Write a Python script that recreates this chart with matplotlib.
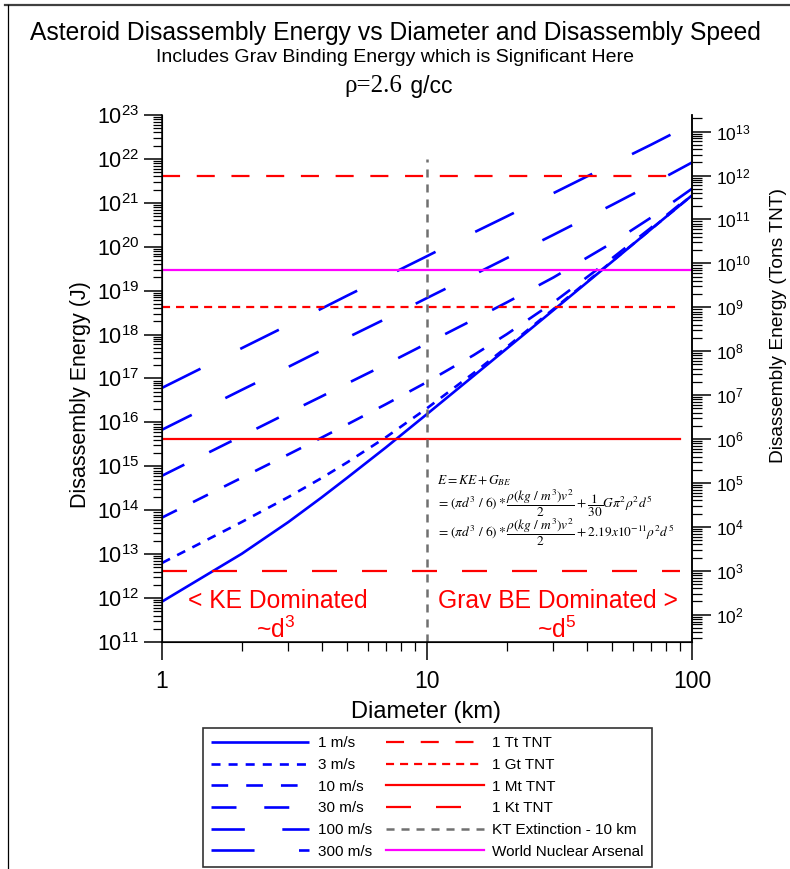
import matplotlib
matplotlib.use("Agg")
import matplotlib.pyplot as plt
from matplotlib.lines import Line2D
from matplotlib.ticker import LogLocator, NullFormatter, FixedLocator

plt.rcParams["font.family"] = ["Liberation Sans", "DejaVu Sans"]
plt.rcParams["mathtext.fontset"] = "custom"
plt.rcParams["mathtext.rm"] = "Liberation Sans"
plt.rcParams["mathtext.it"] = "Liberation Sans:italic"
plt.rcParams["mathtext.bf"] = "Liberation Sans:bold"
plt.rcParams["lines.scale_dashes"] = False

# --- data ---
diameter_km = [1, 2, 3, 4, 5, 7, 10, 15, 20, 30, 50, 70, 100]

speed_labels = ["1 m/s", "3 m/s", "10 m/s", "30 m/s", "100 m/s", "300 m/s"]
energy_1ms = [8.3e11, 1.02e13, 5.4e13, 1.95e14, 5.5e14, 2.7e15, 1.55e16,
              1.15e17, 4.8e17, 3.6e18, 4.6e19, 2.5e20, 1.48e21]
energy_3ms = [6.3e12, 5.4e13, 2.0e14, 5.4e14, 1.23e15, 4.6e15, 2.1e16,
              1.33e17, 5.2e17, 3.8e18, 4.7e19, 2.5e20, 1.49e21]
energy_10ms = [6.8e13, 5.5e14, 1.87e15, 4.5e15, 9.0e15, 2.6e16, 8.3e16,
               3.4e17, 1.02e18, 5.4e18, 5.5e19, 2.7e20, 1.55e21]
energy_30ms = [6.1e14, 4.9e15, 1.66e16, 3.9e16, 7.7e16, 2.1e17, 6.3e17,
               2.2e18, 5.4e18, 2.0e19, 1.23e20, 4.6e20, 2.1e21]
energy_100ms = [6.8e15, 5.5e16, 1.84e17, 4.4e17, 8.5e17, 2.3e18, 6.8e18,
                2.3e19, 5.5e19, 1.87e20, 9.0e20, 2.6e21, 8.3e21]
energy_300ms = [6.1e16, 4.9e17, 1.65e18, 3.9e18, 7.7e18, 2.1e19, 6.1e19,
                2.1e20, 4.9e20, 1.66e21, 7.7e21, 2.1e22, 6.3e22]
speed_energies = [energy_1ms, energy_3ms, energy_10ms,
                  energy_30ms, energy_100ms, energy_300ms]

tnt_labels = ["1 Tt TNT", "1 Gt TNT", "1 Mt TNT", "1 Kt TNT"]
tnt_joules = [4.184e21, 4.184e18, 4.184e15, 4.184e12]
tnt_span_km = [1, 90]

arsenal_label = "World Nuclear Arsenal"
arsenal_joules = 2.9e19
arsenal_span_km = [1, 100]

kt_label = "KT Extinction - 10 km"
kt_diameter_km = 10
kt_span_joules = [1e11, 1e22]

J_PER_TON = 4.184e9

# --- styles ---
speed_dashes = [None, (6.5, 5.8), (12, 13), (18, 20), (24, 27), (31, 32)]
tnt_dashes = [(13, 12), (5.8, 4.3), None, (18, 18)]

fig = plt.figure(figsize=(7.9, 8.69), dpi=100)
ax = fig.add_axes([0.205, 0.2612, 0.671, 0.6065])

for lab, en, dsh in zip(speed_labels, speed_energies, speed_dashes):
    kw = {} if dsh is None else {"dashes": dsh}
    ax.plot(diameter_km, en, color="#0000ff", lw=1.9, label=lab,
            solid_capstyle="butt", dash_capstyle="butt", **kw)

for lab, en, dsh in zip(tnt_labels, tnt_joules, tnt_dashes):
    kw = {} if dsh is None else {"dashes": dsh}
    ax.plot(tnt_span_km, [en, en], color="#ff0000", lw=1.6, label=lab,
            dash_capstyle="butt", **kw)

ax.plot([kt_diameter_km, kt_diameter_km], kt_span_joules, color="#707070",
        lw=1.8, dashes=(5.8, 5), label=kt_label, dash_capstyle="butt")
ax.plot(arsenal_span_km, [arsenal_joules, arsenal_joules], color="#ff00ff",
        lw=1.6, label=arsenal_label)

ax.set_xscale("log")
ax.set_yscale("log")
ax.set_xlim(1, 100)
ax.set_ylim(1e11, 1e23)

ax.set_xticks([1, 10, 100])
ax.set_xticklabels(["1", "10", "100"])
ax.xaxis.set_minor_locator(FixedLocator([2, 3, 4, 5, 6, 7, 8, 9,
                                         20, 30, 40, 50, 60, 70, 80, 90]))
ax.xaxis.set_minor_formatter(NullFormatter())
ax.yaxis.set_major_locator(LogLocator(base=10, numticks=20))
ax.yaxis.set_minor_locator(LogLocator(base=10, subs=range(2, 10), numticks=20))
ax.yaxis.set_minor_formatter(NullFormatter())

ax.tick_params(axis="both", which="major", direction="out", length=13,
               width=1.1, labelsize=15.5)
ax.tick_params(axis="both", which="minor", direction="out", length=6.5,
               width=0.9)
ax.tick_params(axis="x", labelsize=16.5, pad=7)
ax.spines["top"].set_visible(False)
for s in ("left", "right", "bottom"):
    ax.spines[s].set_linewidth(1.1)

ax2 = ax.twinx()
ax2.set_yscale("log")
ax2.set_ylim(1e11 / J_PER_TON, 1e23 / J_PER_TON)
ax2.yaxis.set_major_locator(LogLocator(base=10, numticks=20))
ax2.yaxis.set_minor_locator(LogLocator(base=10, subs=range(2, 10), numticks=20))
ax2.yaxis.set_minor_formatter(NullFormatter())
ax2.tick_params(axis="y", which="major", direction="out", length=14,
                width=1.1, labelsize=12.5)
ax2.tick_params(axis="y", which="minor", direction="out", length=7,
                width=0.9)
ax2.spines["top"].set_visible(False)
ax2.spines["right"].set_linewidth(1.1)

ax.set_ylabel("Disassembly Energy (J)", fontsize=15.5)
ax.yaxis.set_label_coords(-0.134, 0.47)
ax.set_xlabel("Diameter (km)", fontsize=17)
ax.xaxis.set_label_coords(0.498, -0.112)
ax2.set_ylabel("Disassembly Energy (Tons TNT)", fontsize=13.8)
ax2.yaxis.set_label_coords(1.147, 0.60)

# region annotations
red_kw = dict(color="#ff0000", fontsize=17.7, ha="center", va="center",
              transform=ax.transAxes)
ax.text(0.219, 0.078, "< KE Dominated", **red_kw)
ax.text(0.215, 0.023, r"~d$^{3}$", **red_kw)
ax.text(0.747, 0.078, "Grav BE Dominated >", **red_kw)
ax.text(0.745, 0.023, r"~d$^{5}$", **red_kw)

# formula
fx = 0.519
f_kw = dict(fontsize=9.6, math_fontfamily="stix", ha="left", va="center",
            transform=ax.transAxes)
ax.text(fx, 0.307, r"$E = KE + G_{BE}$", **f_kw)
ax.text(fx, 0.263,
        r"$= (\pi d^3\ /\ 6) * \dfrac{\rho(kg\ /\ m^3)v^2}{2} + \dfrac{1}{30}G\pi^2\rho^2 d^5$",
        **f_kw)
ax.text(fx, 0.208,
        r"$= (\pi d^3\ /\ 6) * \dfrac{\rho(kg\ /\ m^3)v^2}{2} + 2.19x10^{-11}\rho^2 d^5$",
        **f_kw)

# titles
fig.text(0.5, 1 - 33 / 869, "Asteroid Disassembly Energy vs Diameter and Disassembly Speed",
         fontsize=17.7, ha="center", va="center")
fig.text(0.5, 1 - 58 / 869, "Includes Grav Binding Energy which is Significant Here",
         fontsize=14, ha="center", va="center")
fig.text(0.509, 1 - 86 / 869, "\u03c1=2.6", family="Liberation Serif",
         fontsize=18, ha="right", va="center")
fig.text(0.511, 1 - 86 / 869, " g/cc", fontsize=16.5, ha="left", va="center")

# legend
handles, labels = ax.get_legend_handles_labels()
leg = fig.legend(handles, labels, loc="upper left", bbox_to_anchor=(0.257, 0.1623),
                 ncol=2, fontsize=11, handlelength=6.4, handletextpad=0.55,
                 columnspacing=0.95, labelspacing=0.5, frameon=True,
                 fancybox=False, edgecolor="black", borderpad=0.55,
                 borderaxespad=0)
leg.get_frame().set_linewidth(1.2)

# page frame
fig.add_artist(Line2D([0.006, 1.0], [1 - 5 / 869, 1 - 5 / 869],
                      transform=fig.transFigure, color="#404040", lw=1.6))
fig.add_artist(Line2D([8 / 790, 8 / 790], [0, 1 - 5 / 869],
                      transform=fig.transFigure, color="black", lw=0.9))

fig.savefig("out.png", dpi=100)
